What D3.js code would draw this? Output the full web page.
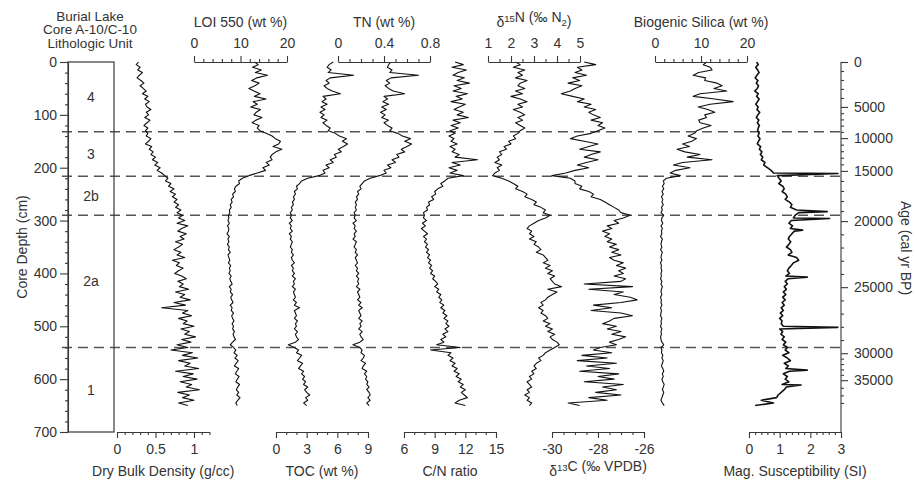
<!DOCTYPE html>
<html>
<head>
<meta charset="utf-8">
<script src="https://cdn.jsdelivr.net/npm/d3@7"></script>
<style>
  body { margin: 0; background: #fff; }
  svg { font-family: "Liberation Sans", Arial, sans-serif; }
</style>
</head>
<body>
<svg id="chart" width="917" height="480"></svg>
<script>
// sample depths (cm), shared by every proxy series
const depth = [0,5,10,15,20,25,30,35,40,45,50,55,60,65,70,75,80,85,90,95,100,105,110,115,120,125,130,
  135,140,145,150,155,160,165,170,175,180,185,190,195,200,205,210,215,
  220,225,230,235,240,245,250,255,260,265,270,275,280,285,290,
  295,300,305,310,315,320,325,330,335,340,345,350,355,360,365,370,375,380,385,390,
  395,400,405,410,415,420,425,430,435,440,445,450,455,460,465,470,475,480,485,490,
  495,500,505,510,515,520,525,530,535,540,545,550,555,560,565,570,575,580,585,590,
  595,600,605,610,615,620,625,630,635,640,645,650];

const dryBulkDensity = [0.28,0.25,0.30,0.27,0.33,0.29,0.26,0.31,0.35,0.30,
  0.34,0.38,0.33,0.40,0.36,0.42,0.37,0.39,0.44,0.38,
  0.41,0.36,0.43,0.39,0.35,0.40,0.37,
  0.40,0.38,0.44,0.41,0.37,0.45,0.42,0.47,0.44,0.50,
  0.46,0.53,0.49,0.56,0.52,0.58,0.62,
  0.66,0.63,0.70,0.67,0.74,0.69,0.76,0.72,0.78,0.74,
  0.80,0.76,0.83,0.78,0.85,
  0.80,0.88,0.78,0.92,0.84,0.79,0.90,0.82,0.87,0.76,
  0.85,0.80,0.74,0.83,0.78,0.88,0.72,0.81,0.77,0.86,
  0.80,0.75,0.84,0.90,0.79,0.86,0.81,0.93,0.76,0.88,
  0.82,0.95,0.74,0.89,0.58,0.92,0.85,0.97,0.80,0.91,
  0.86,1.00,0.83,0.94,0.88,1.02,0.84,0.96,0.78,0.92,
  0.70,0.98,0.85,1.05,0.80,0.95,0.88,1.06,0.76,0.99,
  0.86,1.04,0.82,0.97,0.90,1.07,0.79,0.94,0.85,1.00,0.80,0.92];

const loi550 = [13.0,13.8,12.6,14.5,13.2,15.8,13.5,12.4,14.0,13.1,
  11.8,12.9,14.2,13.0,15.5,12.7,13.6,12.2,14.3,13.4,
  12.9,14.6,13.3,12.5,14.0,13.6,14.2,
  15.5,16.8,17.5,18.6,18.2,17.0,18.9,17.6,16.8,16.4,
  16.8,15.5,16.2,14.8,15.4,13.6,11.8,
  10.4,9.6,9.8,9.0,8.7,8.9,8.3,8.5,8.0,8.2,
  7.8,8.0,7.6,7.7,7.4,
  7.5,7.3,7.6,7.2,7.5,7.4,7.1,7.6,7.3,7.5,
  7.2,7.6,7.4,7.8,7.3,7.5,7.7,7.4,7.9,7.6,
  7.8,7.5,8.0,7.7,7.9,8.2,7.6,8.0,7.8,8.3,
  7.9,8.1,8.4,7.8,8.2,8.0,8.5,8.1,8.3,8.6,
  8.2,8.5,8.3,8.7,8.4,8.6,8.9,8.3,7.8,8.5,
  9.0,8.6,9.3,8.8,9.5,9.1,8.7,9.6,9.2,8.9,
  9.7,9.3,9.0,9.8,9.4,9.1,9.6,9.2,9.9,9.4,9.0,9.3];

const toc = [5.6,5.2,5.0,5.4,5.1,7.6,5.3,4.9,5.2,4.7,
  5.0,5.5,6.3,4.6,4.9,4.5,5.0,4.4,4.8,4.3,
  4.7,4.4,5.0,4.6,4.9,5.3,5.1,
  5.8,6.2,6.9,6.5,7.0,6.6,6.1,6.4,5.7,5.9,
  5.3,5.6,4.9,5.2,4.6,4.8,4.2,
  3.1,2.5,2.3,2.0,2.1,1.8,1.9,1.7,1.8,1.6,
  1.7,1.5,1.6,1.4,1.5,
  1.4,1.6,1.3,1.5,1.4,1.6,1.3,1.5,1.4,1.6,
  1.5,1.4,1.6,1.5,1.7,1.5,1.6,1.8,1.5,1.7,
  1.6,1.8,1.6,1.9,1.7,1.8,1.6,1.9,1.7,1.8,
  1.9,1.7,2.0,1.8,2.3,1.8,1.9,2.0,1.8,2.1,
  1.9,2.0,1.8,2.1,1.9,2.0,2.2,1.9,1.2,1.8,
  2.2,2.0,2.5,2.3,2.1,2.6,2.4,2.2,2.7,2.5,
  2.8,2.6,2.9,2.7,3.1,2.8,3.0,3.3,2.9,3.1,2.7,3.0];

const tn = [0.46,0.44,0.43,0.47,0.45,0.70,0.46,0.42,0.45,0.41,
  0.44,0.48,0.58,0.40,0.43,0.39,0.44,0.38,0.42,0.37,
  0.41,0.38,0.44,0.40,0.43,0.47,0.45,
  0.52,0.56,0.63,0.58,0.64,0.60,0.55,0.58,0.51,0.53,
  0.47,0.50,0.43,0.46,0.40,0.42,0.36,
  0.28,0.23,0.21,0.19,0.20,0.17,0.18,0.16,0.17,0.15,
  0.16,0.15,0.16,0.14,0.15,
  0.14,0.16,0.13,0.15,0.14,0.16,0.14,0.15,0.13,0.16,
  0.15,0.14,0.16,0.15,0.17,0.15,0.16,0.17,0.15,0.17,
  0.16,0.18,0.16,0.18,0.17,0.18,0.16,0.19,0.17,0.18,
  0.19,0.17,0.20,0.18,0.21,0.18,0.19,0.20,0.18,0.21,
  0.19,0.20,0.18,0.21,0.19,0.20,0.22,0.19,0.13,0.19,
  0.21,0.20,0.23,0.22,0.20,0.24,0.22,0.21,0.25,0.23,
  0.25,0.24,0.26,0.25,0.27,0.25,0.27,0.28,0.26,0.28,0.25,0.27];

const cnRatio = [11.0,11.8,10.7,12.1,11.3,10.8,11.9,11.2,12.4,10.9,
  11.6,10.8,12.2,11.1,11.7,10.6,12.0,11.4,10.9,11.8,
  11.2,12.3,10.8,11.5,10.6,11.3,10.5,
  11.0,10.4,10.9,10.6,11.2,10.5,11.0,10.7,11.4,11.0,
  13.2,10.7,11.5,10.4,11.2,10.5,11.8,
  10.3,10.0,9.6,9.8,9.3,9.0,9.1,8.7,8.9,8.4,
  8.5,8.2,8.3,7.9,8.0,
  7.9,8.2,7.8,8.1,7.7,8.0,8.3,7.9,8.2,8.0,
  8.3,8.1,8.4,8.2,8.5,8.3,8.6,8.4,8.7,8.5,
  8.8,8.6,9.0,8.8,9.1,9.3,9.0,9.4,9.2,9.6,
  9.4,9.7,9.5,9.9,9.6,10.0,9.8,10.2,9.9,10.3,
  10.1,10.4,10.0,10.3,9.8,10.1,9.6,9.9,9.2,11.5,
  8.6,10.6,10.3,10.8,10.5,11.0,10.7,11.2,10.9,11.4,
  11.1,11.6,11.3,11.8,11.5,12.0,11.6,11.9,12.2,11.4,11.0,12.0];

const d15N = [2.2,2.4,2.1,2.6,2.3,2.5,2.2,2.7,2.4,2.3,
  2.6,2.2,2.5,2.0,2.4,2.7,2.3,2.5,2.1,2.4,
  2.6,2.3,2.5,2.2,2.4,2.6,2.4,
  2.3,2.1,2.2,1.9,2.0,1.7,1.8,1.5,1.6,1.4,
  1.5,1.3,1.6,1.4,1.5,1.3,1.2,
  1.6,1.9,2.1,2.3,2.2,2.5,2.7,2.6,2.9,3.1,
  3.0,3.3,3.5,3.4,3.7,
  3.5,3.2,3.0,2.8,2.7,2.9,2.8,3.0,2.8,3.1,
  3.0,3.2,3.3,3.1,3.4,3.5,3.6,3.4,3.7,3.5,
  3.8,3.6,3.9,3.7,3.8,3.9,4.2,3.6,4.0,3.8,
  3.6,3.5,3.3,3.4,3.2,3.4,3.3,3.5,3.6,3.4,
  3.7,3.5,3.8,3.6,3.9,3.7,3.8,4.0,4.1,3.9,
  3.7,3.5,3.4,3.2,3.3,3.1,3.0,3.1,2.9,3.0,
  2.8,2.9,2.7,2.8,2.9,2.7,2.8,2.6,2.8,2.7,2.9,2.8];

const d13C = [-28.6,-28.1,-28.9,-28.7,-29.0,-28.5,-29.1,-28.8,-29.3,-28.7,
  -29.0,-29.2,-29.6,-29.1,-28.6,-28.9,-28.3,-28.6,-28.1,-28.4,
  -28.2,-27.9,-28.3,-27.8,-28.0,-27.7,-28.0,
  -28.3,-28.9,-29.2,-28.6,-28.0,-28.4,-28.8,-27.9,-28.3,-28.6,
  -28.0,-28.5,-28.9,-28.4,-29.0,-29.4,-30.0,
  -29.2,-29.0,-29.0,-28.7,-28.8,-28.4,-28.2,-28.3,-27.9,-27.7,
  -27.5,-27.3,-27.1,-27.0,-26.6,
  -26.9,-27.3,-27.1,-27.6,-27.4,-27.8,-27.5,-27.7,-27.4,-27.6,
  -27.2,-27.5,-27.1,-27.4,-27.0,-27.5,-27.3,-26.9,-27.2,-26.8,
  -27.1,-26.9,-27.3,-26.8,-27.0,-28.6,-26.5,-28.4,-26.9,-27.3,
  -26.6,-26.3,-27.0,-28.2,-27.4,-28.3,-27.0,-26.5,-27.3,-27.5,
  -27.8,-27.2,-27.6,-27.0,-27.4,-26.8,-27.1,-27.5,-27.2,-27.9,
  -28.2,-27.4,-28.7,-27.6,-28.9,-27.2,-28.5,-27.5,-28.8,-27.1,
  -28.0,-27.3,-28.6,-26.9,-27.8,-27.2,-28.1,-27.0,-28.4,-27.6,-29.3,-28.8];

const biogenicSilica = [11.3,10.5,12.0,12.4,9.5,8.3,11.0,10.8,13.5,14.6,
  12.8,15.6,9.8,8.3,13.0,17.0,12.0,9.4,11.5,13.0,
  10.8,11.2,9.5,9.8,12.2,10.5,9.1,
  8.6,7.2,9.0,8.0,6.0,7.5,4.8,6.5,9.8,7.0,
  12.4,6.0,4.0,7.6,4.5,3.3,5.5,
  2.5,1.8,2.0,1.6,1.9,1.5,1.8,1.4,1.7,1.5,
  1.8,1.4,1.6,1.3,1.9,
  1.5,1.4,1.7,1.3,1.6,1.4,1.5,1.2,1.6,1.4,
  1.3,1.5,1.2,1.6,1.4,1.3,1.5,1.2,1.4,1.3,
  1.5,1.3,1.4,1.2,1.5,1.3,1.6,1.4,1.3,1.5,
  1.2,1.4,1.3,1.5,1.2,1.4,1.3,1.2,1.5,1.3,
  1.4,1.2,1.5,1.3,1.4,1.2,1.3,1.5,1.9,1.3,
  1.5,1.4,1.7,1.5,1.8,1.6,1.4,1.7,1.9,1.6,
  1.8,1.5,1.7,2.0,1.8,1.6,1.9,1.7,1.5,1.3,1.6,2.0];

const magSusceptibility = [0.25,0.30,0.22,0.28,0.33,0.26,0.20,0.29,0.24,0.31,
  0.27,0.19,0.30,0.25,0.33,0.28,0.22,0.30,0.26,0.35,
  0.29,0.24,0.32,0.27,0.34,0.30,0.28,
  0.33,0.29,0.36,0.31,0.27,0.38,0.34,0.42,0.37,0.45,
  0.40,0.52,0.48,0.60,0.72,0.80,0.92,
  0.98,1.05,0.97,1.10,1.15,1.08,1.20,1.25,1.18,1.32,
  1.40,1.35,1.55,1.62,1.50,
  1.45,1.38,1.30,1.42,1.35,1.48,1.40,1.32,1.28,1.36,
  1.30,1.22,1.35,1.40,1.28,1.55,1.62,1.45,1.38,1.30,
  1.25,1.32,1.20,1.28,1.18,1.25,1.15,1.22,1.12,1.20,
  1.10,1.18,1.08,1.15,1.05,1.12,1.02,1.10,1.00,1.08,
  1.05,1.12,1.00,1.10,1.04,1.15,1.08,1.20,1.12,1.25,
  1.18,1.30,1.10,1.25,1.35,1.15,1.28,1.20,1.32,1.12,
  1.25,1.18,1.30,1.08,1.22,1.15,1.05,0.95,0.90,0.40,0.80,0.20];

// single-sample spikes in the susceptibility record
const magSpikeDepth = [211, 283, 296, 318, 407, 502, 583, 611];
const magSpikeValue = [2.9, 2.55, 2.63, 1.75, 1.9, 2.9, 1.9, 1.7];

// lithologic units
const unitNames = ["4", "3", "2b", "2a", "1"];
const unitTop = [0, 132, 216, 290, 540];
const unitBase = [132, 216, 290, 540, 700];

// age-depth model for the right-hand axis
const ageModelAge = [0, 5000, 10000, 15000, 20000, 25000, 30000, 35000, 38000];
const ageModelDepth = [0, 85, 144, 206, 301, 426, 551, 602, 645];
const ageTicks = [0, 5000, 10000, 15000, 20000, 25000, 30000, 35000];
const depthTicks = [0, 100, 200, 300, 400, 500, 600, 700];

const svg = d3.select("#chart");
const ink = "#383838";
const y = d3.scaleLinear().domain([0, 700]).range([62, 432]);

function axis(orient, scale, major, minor, fmt, pos, majorLen, pad) {
  const make = { top: d3.axisTop, bottom: d3.axisBottom, left: d3.axisLeft, right: d3.axisRight }[orient];
  const horiz = orient === "top" || orient === "bottom";
  const g = svg.append("g")
    .attr("transform", horiz ? `translate(0,${pos})` : `translate(${pos},0)`)
    .style("color", ink);
  g.append("g").call(make(scale).tickValues(minor).tickSize(3).tickSizeOuter(0).tickFormat(""))
    .select(".domain").remove();
  const m = g.append("g").call(make(scale).tickValues(major).tickSize(majorLen || 6)
    .tickSizeOuter(0).tickPadding(pad).tickFormat(fmt));
  g.selectAll("text").attr("font-size", 14).attr("font-family", null).attr("fill", "#333");
  g.selectAll("line, path").attr("stroke-width", 1.1);
  return m;
}

function title(x, yy, parts, rotate) {
  const t = svg.append("text")
    .attr("text-anchor", "middle").attr("font-size", 14).attr("fill", "#333");
  if (rotate) t.attr("transform", `translate(${x},${yy}) rotate(${rotate})`);
  else t.attr("x", x).attr("y", yy);
  parts.forEach(p => {
    if (typeof p === "string") t.append("tspan").text(p);
    else t.append("tspan").attr("font-size", 9.5).attr("dy", p.dy).text(p.t)
      .clone(false).attr("font-size", 14).attr("dy", -p.dy).text("");
  });
  return t;
}

const fmtPlain = d => String(d);

// panel definitions: scale domains + pixel extents
const panels = [
  { values: dryBulkDensity, domain: [0, 1.2], range: [117, 209.4], side: "bottom",
    major: [0, 0.5, 1], step: 0.1, name: ["Dry Bulk Density (g/cc)"] },
  { values: loi550, domain: [0, 20], range: [194, 287], side: "top",
    major: [0, 10, 20], step: 2, name: ["LOI 550 (wt %)"] },
  { values: toc, domain: [0, 9], range: [276, 368], side: "bottom",
    major: [0, 3, 6, 9], step: 1, name: ["TOC (wt %)"] },
  { values: tn, domain: [0, 0.8], range: [338, 430], side: "top",
    major: [0, 0.4, 0.8], step: 0.1, name: ["TN (wt %)"] },
  { values: cnRatio, domain: [6, 15], range: [404, 496], side: "bottom",
    major: [6, 9, 12, 15], step: 1, name: ["C/N ratio"] },
  { values: d15N, domain: [1, 5], range: [488, 580], side: "top",
    major: [1, 2, 3, 4, 5], step: 0.5, name: ["δ", { t: "15", dy: -5 }, "N (‰ N", { t: "2", dy: 4 }, ")"] },
  { values: d13C, domain: [-30, -26], range: [552, 644], side: "bottom",
    major: [-30, -28, -26], step: 0.5, name: ["δ", { t: "13", dy: -5 }, "C (‰ VPDB)"] },
  { values: biogenicSilica, domain: [0, 20], range: [655, 747], side: "top",
    major: [0, 10, 20], step: 2, name: ["Biogenic Silica (wt %)"] },
  { values: magSusceptibility, domain: [0, 3], range: [749, 841], side: "bottom",
    major: [0, 1, 2, 3], step: 0.2, name: ["Mag. Susceptibility (SI)"], width: 1.6 }
];

// boundary dashes first so curves sit on top
svg.append("g").selectAll("line")
  .data(unitTop.slice(1))
  .join("line")
  .attr("x1", 62).attr("x2", 841)
  .attr("y1", d => y(d)).attr("y2", d => y(d))
  .attr("stroke", "#555").attr("stroke-width", 1.5)
  .attr("stroke-dasharray", "10,6");

panels.forEach(p => {
  const x = d3.scaleLinear().domain(p.domain).range(p.range);
  let pts = depth.map((d, i) => [d, p.values[i]]).filter(q => q[1] != null);
  if (p.values === magSusceptibility) {
    pts = pts.concat(magSpikeDepth.map((d, i) => [d, magSpikeValue[i]]))
      .sort((a, b) => a[0] - b[0]);
  }
  svg.append("path")
    .datum(pts)
    .attr("fill", "none")
    .attr("stroke", "#111")
    .attr("stroke-width", p.width || 1.1)
    .attr("stroke-linejoin", "round")
    .attr("d", d3.line().x(q => x(q[1])).y(q => y(q[0])));

  const minor = d3.range(p.domain[0], p.domain[1] + p.step / 2, p.step)
    .map(v => +v.toFixed(3))
    .filter(v => !p.major.some(m => Math.abs(m - v) < 1e-6));
  const top = p.side === "top";
  axis(p.side, x, p.major, minor, fmtPlain, top ? 62 : 432, 6, top ? 8 : 6);
  const cx = (p.range[0] + p.range[1]) / 2;
  title(cx, top ? 27 : 476, p.name);
});

// lithologic unit column
svg.append("rect")
  .attr("x", 68).attr("y", y(0))
  .attr("width", 46).attr("height", y(700) - y(0))
  .attr("fill", "none").attr("stroke", ink).attr("stroke-width", 1.2);

svg.append("g").selectAll("text")
  .data(unitNames)
  .join("text")
  .attr("x", 91)
  .attr("y", (d, i) => y((unitTop[i] + unitBase[i]) / 2))
  .attr("dy", "0.35em")
  .attr("text-anchor", "middle")
  .attr("font-size", 14).attr("fill", "#333")
  .text(d => d);

// depth axis
const depthMinor = d3.range(20, 700, 20).filter(v => v % 100 !== 0);
axis("left", y, depthTicks, depthMinor, fmtPlain, 68, 8, 3);

// age axis on the right
const ageScale = d3.scaleLinear().domain(ageModelAge).range(ageModelDepth.map(y));
const ageMinor = d3.range(1000, 38001, 1000).filter(v => v % 5000 !== 0);
axis("right", ageScale, ageTicks, ageMinor, d3.format("d"), 841, 7, 6)
  .select(".domain").remove();
svg.append("line")
  .attr("x1", 841).attr("x2", 841).attr("y1", y(0)).attr("y2", y(700))
  .attr("stroke", ink).attr("stroke-width", 1.1);

// headings
["Burial Lake", "Core A-10/C-10", "Lithologic Unit"].forEach((s, i) => {
  svg.append("text").attr("x", 90).attr("y", 20.5 + i * 13.6)
    .attr("text-anchor", "middle").attr("font-size", 13.5).attr("fill", "#333").text(s);
});
title(27, 247, ["Core Depth (cm)"], -90);
title(901, 248, ["Age (cal yr BP)"], 90);
</script>
</body>
</html>
